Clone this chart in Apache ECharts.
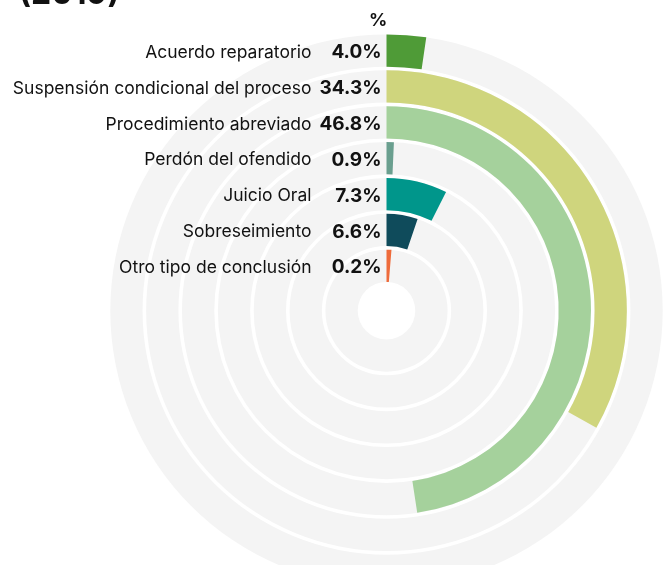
<!DOCTYPE html>
<html>
<head>
<meta charset="utf-8">
<script src="https://cdn.jsdelivr.net/npm/echarts@6/dist/echarts.min.js"></script>
<style>
  html, body { margin: 0; padding: 0; background: #fff; }
  #chart { width: 666px; height: 565px; }
</style>
</head>
<body>
<div id="chart"></div>
<script>
// categorías de arriba (anillo exterior) hacia abajo (anillo interior)
const categories = [
  'Acuerdo reparatorio',
  'Suspensión condicional del proceso',
  'Procedimiento abreviado',
  'Perdón del ofendido',
  'Juicio Oral',
  'Sobreseimiento',
  'Otro tipo de conclusión'
];
// porcentajes que muestra la etiqueta
const pctLabels = ['4.0', '34.3', '46.8', '0.9', '7.3', '6.6', '0.2'];
// largo del arco tal como está dibujado (en % de la vuelta completa)
const arcValues = [2.3, 33.1, 47.6, 0.7, 7.4, 5.2, 1.3];
const colors = ['#4f9b37', '#cfd57d', '#a5d19c', '#6a9f8f', '#00968b', '#0f4b5b', '#ee6b3b'];

const FONT = 'Inter, "Noto Sans", sans-serif';

const chart = echarts.init(document.getElementById('chart'));

// el eje radial en ECharts va de adentro hacia afuera
const radCats = categories.slice().reverse();
const radPct = pctLabels.slice().reverse();
const radArc = arcValues.slice().reverse();
const radColors = colors.slice().reverse();

const option = {
  backgroundColor: '#fff',
  animation: false,
  title: [
    {
      text: '(2019)',
      left: 14,
      top: -27,
      textStyle: { fontSize: 32, fontWeight: 'bold', color: '#111', fontFamily: FONT }
    },
    {
      text: '%',
      left: 364,
      top: 7,
      textStyle: { fontSize: 18, fontWeight: 'bold', color: '#111', fontFamily: FONT }
    }
  ],
  polar: {
    center: [386.5, 310.7],
    radius: [27, 278]
  },
  angleAxis: {
    type: 'value',
    min: 0,
    max: 100,
    startAngle: 90,
    clockwise: true,
    axisLine: { show: false },
    axisTick: { show: false },
    axisLabel: { show: false },
    splitLine: { show: false }
  },
  radiusAxis: {
    type: 'category',
    data: radCats,
    axisLine: { show: false },
    axisTick: { show: false },
    splitLine: { show: false },
    axisLabel: {
      margin: 5,
      interval: 0,
      padding: [4, 0, 0, 0],
      formatter: function (value, idx) {
        return '{n|' + value + '}{v|' + radPct[idx] + '%}';
      },
      rich: {
        n: { fontSize: 17.5, color: '#111', fontFamily: FONT },
        v: { fontSize: 19, fontWeight: 'bold', color: '#111', fontFamily: FONT, width: 70, align: 'right' }
      }
    },
    z: 5
  },
  series: [
    {
      type: 'bar',
      coordinateSystem: 'polar',
      barCategoryGap: '10%',
      showBackground: true,
      backgroundStyle: { color: '#f4f4f4' },
      data: radArc.map((v, i) => ({ value: v, itemStyle: { color: radColors[i] } })),
      z: 3
    }
  ]
};

chart.setOption(option);
</script>
</body>
</html>
